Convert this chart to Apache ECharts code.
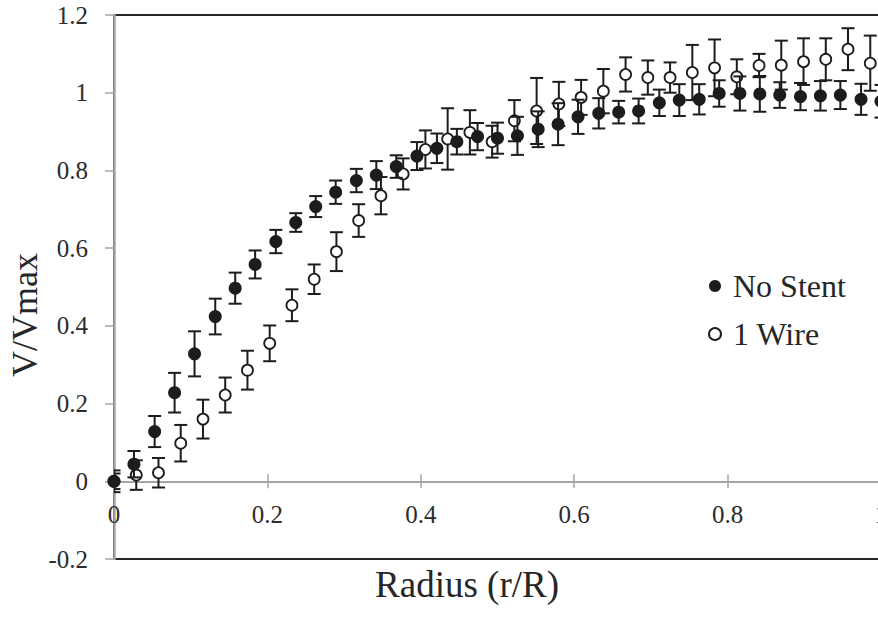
<!DOCTYPE html>
<html>
<head>
<meta charset="utf-8">
<script src="https://cdn.jsdelivr.net/npm/echarts@6.0.0/dist/echarts.min.js"></script>
<style>
  html, body { margin: 0; padding: 0; background: #ffffff; }
  #chart { width: 878px; height: 617px; }
</style>
</head>
<body>
<div id="chart"></div>
<script>
// Normalised velocity profile across the vessel radius, with standard-deviation bars.

// No Stent
const noStentX = [0, 0.026, 0.053, 0.079, 0.105, 0.132, 0.158, 0.184, 0.211, 0.237,
  0.263, 0.289, 0.316, 0.342, 0.368, 0.395, 0.421, 0.447, 0.474, 0.5,
  0.526, 0.553, 0.579, 0.605, 0.632, 0.658, 0.684, 0.711, 0.737, 0.763,
  0.789, 0.816, 0.842, 0.868, 0.895, 0.921, 0.947, 0.974, 1];
const noStentV = [0, 0.044, 0.128, 0.228, 0.328, 0.424, 0.497, 0.558, 0.617, 0.666,
  0.707, 0.744, 0.774, 0.788, 0.81, 0.837, 0.857, 0.874, 0.887, 0.883,
  0.889, 0.906, 0.919, 0.938, 0.947, 0.95, 0.953, 0.974, 0.981, 0.983,
  0.998, 0.998, 0.997, 0.994, 0.99, 0.992, 0.994, 0.983, 0.978];
const noStentErr = [0.028, 0.034, 0.04, 0.051, 0.058, 0.046, 0.04, 0.036, 0.03, 0.024,
  0.027, 0.03, 0.03, 0.036, 0.029, 0.036, 0.038, 0.033, 0.035, 0.04,
  0.049, 0.046, 0.054, 0.044, 0.039, 0.029, 0.032, 0.034, 0.041, 0.039,
  0.034, 0.044, 0.046, 0.033, 0.035, 0.038, 0.036, 0.04, 0.042];

// 1 Wire
const oneWireX = [0, 0.029, 0.058, 0.087, 0.116, 0.145, 0.174, 0.203, 0.232, 0.261,
  0.29, 0.319, 0.348, 0.377, 0.406, 0.435, 0.464, 0.493, 0.522, 0.551,
  0.58, 0.609, 0.638, 0.667, 0.696, 0.725, 0.754, 0.783, 0.812, 0.841,
  0.87, 0.899, 0.928, 0.957, 0.986];
const oneWireV = [0, 0.016, 0.022, 0.098, 0.16, 0.222, 0.286, 0.355, 0.453, 0.52,
  0.591, 0.671, 0.735, 0.791, 0.854, 0.881, 0.898, 0.874, 0.928, 0.953,
  0.971, 0.988, 1.004, 1.047, 1.039, 1.039, 1.052, 1.064, 1.041, 1.07,
  1.071, 1.08, 1.086, 1.112, 1.076];
const oneWireErr = [0.02, 0.038, 0.038, 0.047, 0.05, 0.045, 0.05, 0.046, 0.041, 0.038,
  0.05, 0.042, 0.048, 0.04, 0.049, 0.079, 0.057, 0.041, 0.053, 0.085,
  0.057, 0.045, 0.057, 0.044, 0.044, 0.039, 0.071, 0.073, 0.045, 0.03,
  0.063, 0.06, 0.054, 0.054, 0.071];

const xTicks = { min: 0, max: 1, interval: 0.2 };
const yTicks = { min: -0.2, max: 1.2, interval: 0.2 };

const seriesNames = ['No Stent', '1 Wire'];
const xTitle = 'Radius (r/R)';
const yTitle = 'V/Vmax';

const INK = '#1c1c1c';
const AXIS_GREY = '#a5a5a5';
const SERIF = "'Liberation Serif', 'Times New Roman', serif";

const points = (xs, ys) => xs.map((x, i) => [x, ys[i]]);
const bars = (xs, ys, es) => xs.map((x, i) => [x, ys[i], es[i]]);
const fmt = v => String(Math.round(v * 10) / 10);

function renderErrorBar(params, api) {
  const x = api.value(0), y = api.value(1), e = api.value(2);
  const hi = api.coord([x, y + e]);
  const lo = api.coord([x, y - e]);
  const half = 6.5;
  const style = { stroke: INK, lineWidth: 2, fill: null };
  return {
    type: 'group',
    children: [
      { type: 'line', shape: { x1: hi[0], y1: hi[1], x2: lo[0], y2: lo[1] }, style },
      { type: 'line', shape: { x1: hi[0] - half, y1: hi[1], x2: hi[0] + half, y2: hi[1] }, style },
      { type: 'line', shape: { x1: lo[0] - half, y1: lo[1], x2: lo[0] + half, y2: lo[1] }, style }
    ]
  };
}

const xScale = { type: 'value', min: xTicks.min, max: xTicks.max, interval: xTicks.interval,
                 splitLine: { show: false } };
const tickStyle = { color: AXIS_GREY, width: 1.5 };

const chart = echarts.init(document.getElementById('chart'), null, { renderer: 'svg' });

chart.setOption({
  backgroundColor: '#ffffff',
  animation: false,
  grid: {
    left: 114, top: 15, right: -3, bottom: 58,
    containLabel: false, outerBoundsMode: 'none',
    show: true, borderColor: '#262626', borderWidth: 2,
    backgroundColor: 'transparent'
  },
  legend: {
    data: seriesNames,
    orient: 'vertical',
    left: 703, top: 265,
    itemWidth: 26, itemHeight: 12, itemGap: 16,
    textStyle: { fontFamily: SERIF, fontSize: 32, color: '#262626' },
    selectedMode: false
  },
  xAxis: [
    Object.assign({}, xScale, {
      // zero line, lower half of its crossing ticks
      position: 'bottom',
      axisLine: { show: true, onZero: true, onZeroAxisIndex: 0, lineStyle: { color: AXIS_GREY, width: 2 } },
      axisTick: { show: true, inside: false, length: 7, lineStyle: tickStyle },
      axisLabel: { show: false }
    }),
    Object.assign({}, xScale, {
      // upper half of the crossing ticks
      position: 'top',
      axisLine: { show: false, onZero: true, onZeroAxisIndex: 0 },
      axisTick: { show: true, inside: false, length: 7, lineStyle: tickStyle },
      axisLabel: { show: false }
    }),
    Object.assign({}, xScale, {
      // tick labels sitting just under the zero line
      position: 'bottom',
      axisLine: { show: false, onZero: false },
      axisTick: { show: false },
      axisLabel: { margin: -57, formatter: fmt, fontFamily: SERIF, fontSize: 25, color: '#2b2b2b',
                   hideOverlap: false }
    })
  ],
  yAxis: {
    type: 'value',
    min: yTicks.min, max: yTicks.max, interval: yTicks.interval,
    axisLine: { show: true, onZero: false, lineStyle: { color: AXIS_GREY, width: 2.5 } },
    axisTick: { show: true, inside: false, length: 9, lineStyle: tickStyle },
    axisLabel: { margin: 26, formatter: fmt, fontFamily: SERIF, fontSize: 25, color: '#2b2b2b' },
    splitLine: { show: false }
  },
  graphic: [
    {
      type: 'text', x: 467, y: 584,
      style: { text: xTitle, font: "37px 'Liberation Serif', serif", fill: '#262626',
               textAlign: 'center', textVerticalAlign: 'middle' }
    },
    {
      type: 'text', x: 25, y: 315, rotation: Math.PI / 2,
      style: { text: yTitle, font: "36px 'Liberation Serif', serif", fill: '#262626',
               textAlign: 'center', textVerticalAlign: 'middle' }
    }
  ],
  series: [
    {
      type: 'custom', name: '1 Wire bars', xAxisIndex: 0, clip: true, z: 2,
      renderItem: renderErrorBar, encode: { x: 0, y: 1 },
      data: bars(oneWireX, oneWireV, oneWireErr), silent: true
    },
    {
      type: 'scatter', name: seriesNames[1], xAxisIndex: 0, clip: false, z: 3,
      symbol: 'circle', symbolSize: 11,
      itemStyle: { color: '#ffffff', borderColor: INK, borderWidth: 1.8, opacity: 1 },
      data: points(oneWireX, oneWireV)
    },
    {
      type: 'custom', name: 'No Stent bars', xAxisIndex: 0, clip: true, z: 4,
      renderItem: renderErrorBar, encode: { x: 0, y: 1 },
      data: bars(noStentX, noStentV, noStentErr), silent: true
    },
    {
      type: 'scatter', name: seriesNames[0], xAxisIndex: 0, clip: false, z: 5,
      symbol: 'circle', symbolSize: 13,
      itemStyle: { color: INK, opacity: 1 },
      data: points(noStentX, noStentV)
    }
  ]
});
</script>
</body>
</html>
